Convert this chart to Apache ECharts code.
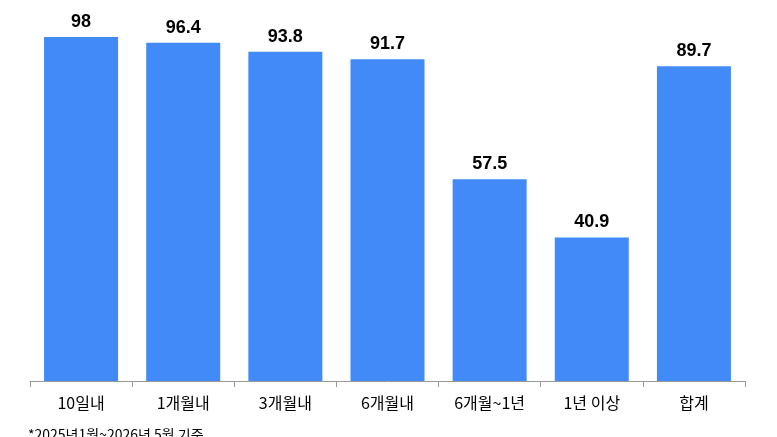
<!DOCTYPE html><html><head><meta charset="utf-8"><script src="https://cdn.jsdelivr.net/npm/echarts@6/dist/echarts.min.js"></script></head><body style="margin:0"><div id="c" style="width:777px;height:437px"></div><script>
const categories=['10일내','1개월내','3개월내','6개월내','6개월~1년','1년 이상','합계'];
const values=[98,96.4,93.8,91.7,57.5,40.9,89.7];
const note='*2025년1월~2026년 5월 기준';
const ch=echarts.init(document.getElementById('c'));
ch.setOption({animation:false,
graphic:[{type:'text',left:28,top:428,style:{text:note,font:'14px "Noto Sans CJK KR"',fill:'#000'}}],
grid:{left:30,right:32,top:30,bottom:56},
xAxis:{type:'category',data:categories,axisLine:{lineStyle:{color:'#999'}},axisTick:{show:true,length:6,lineStyle:{color:'#999'}},axisLabel:{color:'#000',fontSize:16,fontFamily:'Noto Sans CJK KR',margin:14}},
yAxis:{type:'value',min:0,max:100,show:false},
series:[{type:'bar',data:values,barWidth:74,itemStyle:{color:'#418af8'},label:{show:true,position:'top',color:'#000',fontSize:18,fontWeight:'bold',fontFamily:'Liberation Sans',distance:6}}]});
</script></body></html>
